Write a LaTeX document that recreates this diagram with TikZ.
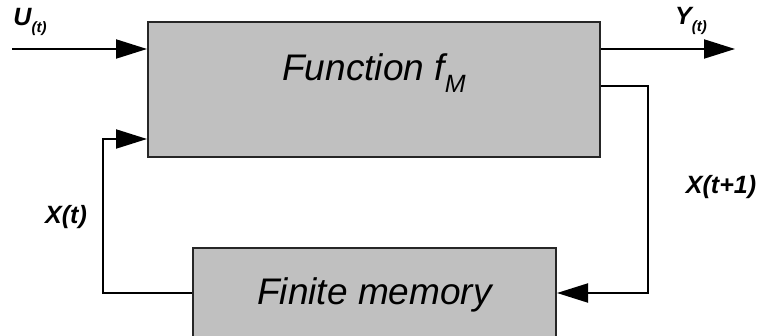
\documentclass[tikz,border=0pt]{standalone}
\usepackage{fontspec}
\setmainfont{Liberation Sans}
\usetikzlibrary{arrows.meta}
\definecolor{boxgray}{RGB}{192,192,192}
\newcommand\lblsub[1]{\raisebox{-0.3em}{\fontsize{15}{15}\selectfont #1}}
\newcommand\boxsub[1]{\smash{\raisebox{-0.3em}{\fontsize{25}{25}\selectfont #1}}}
\tikzset{
  blk/.style={draw=black!85, line width=2pt, fill=boxgray, inner sep=0pt,
    font=\fontsize{37}{40}\selectfont\itshape},
  wire/.style={line width=2pt},
  arr/.style={wire, -{Triangle[length=31pt,width=19pt]}},
  lbl/.style={font=\fontsize{25}{30}\selectfont\bfseries\itshape, inner sep=0pt},
}
\begin{document}
\begin{tikzpicture}[x=1pt,y=-1pt]
\useasboundingbox (0,0) rectangle (758,336);
\clip (0,0) rectangle (758,336);
\node[blk, minimum width=452pt, minimum height=135pt, text height=10pt, text depth=27pt] (fn) at (374,89.5) {Function f\boxsub{M}};
\node[blk, minimum width=363pt, minimum height=90pt, text height=27pt, text depth=3pt] (mem) at (374.5,293) {Finite memory};
\coordinate (uin) at (12,49);
\coordinate (yout) at (735,49);
\coordinate (fb) at (648,86);
\coordinate (xb) at (103,139);
\draw[arr] (uin) -- (uin -| fn.west);
\draw[arr] (yout -| fn.east) -- (yout);
\draw[arr] (fb -| fn.east) -- (fb) |- (mem.east);
\draw[arr] (mem.west) -| (xb) -- (xb -| fn.west);
\node[lbl] (ulab) at (30,22) {U\lblsub{(t)}};
\node[lbl] (ylab) at (691,21) {Y\lblsub{(t)}};
\node[lbl] (xlab) at (66,217) {X(t)};
\node[lbl] (xnlab) at (721,187) {X(t+1)};
\end{tikzpicture}
\end{document}
